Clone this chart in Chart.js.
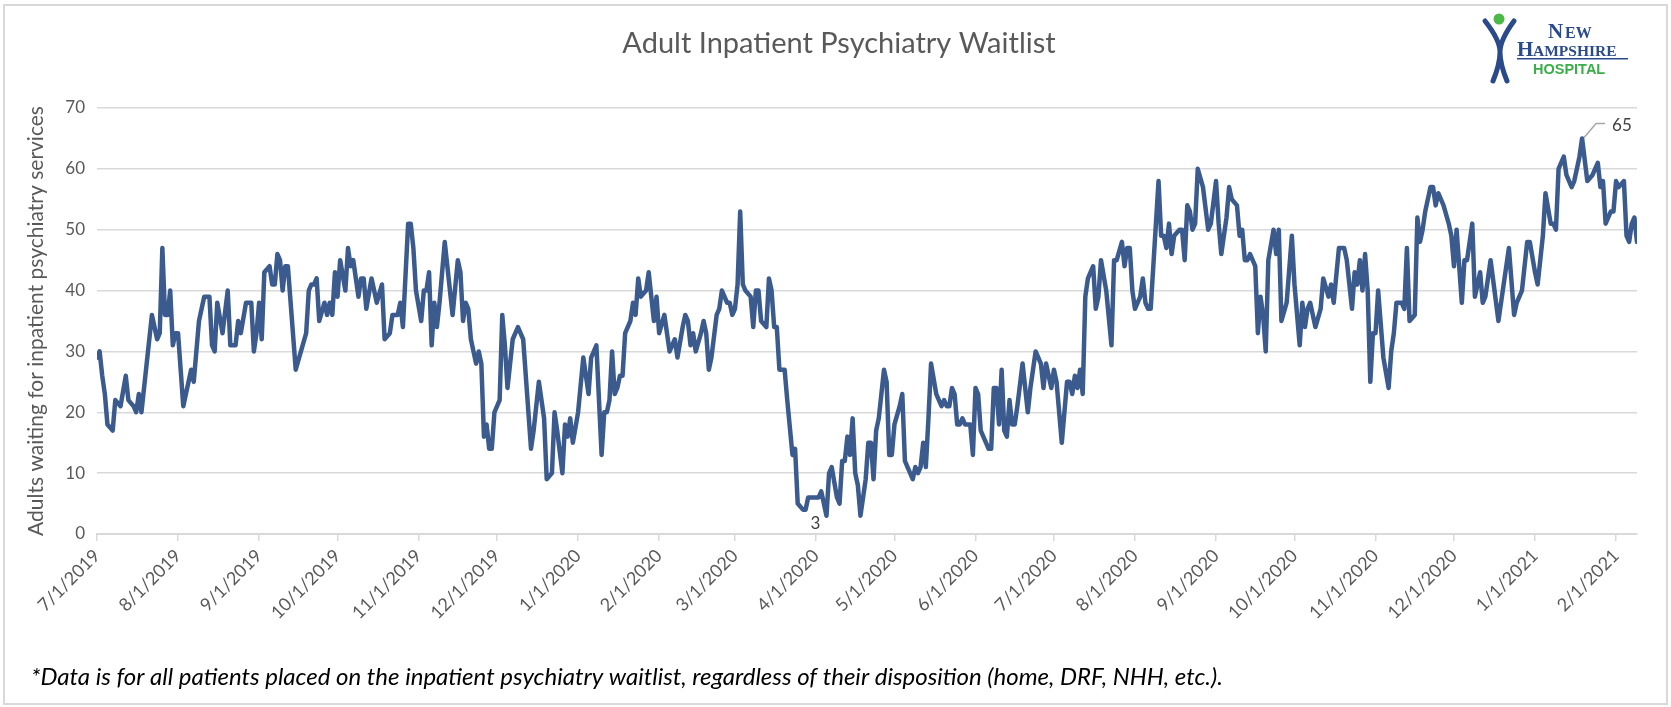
<!DOCTYPE html>
<html>
<head>
<meta charset="utf-8">
<title>Adult Inpatient Psychiatry Waitlist</title>
<script src="https://cdn.jsdelivr.net/npm/chart.js@4.4.1/dist/chart.umd.min.js"></script>
<style>
  html, body { margin: 0; padding: 0; background: #fff; }
  canvas { display: block; }
</style>
</head>
<body>
<canvas id="waitChart" width="1671" height="707"></canvas>
<script>
// days since 7/1/2019 and the waitlist count on that day
const dayIndex = [
  0, 1, 2, 3, 4, 6, 7, 9, 11, 12, 14, 15, 16, 17, 21, 23, 24, 25, 26, 27,
  28, 29, 30, 31, 33, 36, 37, 39, 41, 43, 44, 45, 46, 48, 50, 51, 53, 54, 55, 57,
  59, 60, 61, 62, 63, 64, 66, 67, 68, 69, 70, 71, 72, 73, 76, 80, 81, 82, 83, 84,
  85, 87, 88, 89, 90, 91, 92, 93, 95, 96, 97, 98, 100, 101, 102, 103, 105, 106, 107, 109,
  110, 112, 113, 115, 116, 117, 119, 120, 121, 122, 124, 125, 126, 127, 128, 129, 130, 131, 133, 134,
  136, 138, 139, 140, 141, 142, 143, 145, 146, 147, 148, 149, 150, 151, 152, 154, 155, 156, 157, 159,
  161, 163, 166, 167, 169, 171, 172, 174, 175, 176, 178, 179, 180, 181, 182, 184, 186, 188, 189, 191,
  193, 194, 195, 196, 197, 198, 199, 200, 201, 202, 204, 205, 206, 207, 208, 210, 211, 213, 214, 215,
  217, 219, 221, 222, 224, 225, 226, 227, 228, 229, 231, 232, 233, 234, 235, 237, 238, 239, 241, 242,
  243, 244, 245, 246, 247, 248, 250, 251, 252, 253, 254, 256, 257, 258, 259, 260, 261, 263, 264, 266,
  267, 268, 270, 271, 272, 276, 277, 279, 280, 281, 283, 284, 285, 286, 287, 288, 289, 290, 291, 292,
  294, 295, 296, 297, 298, 299, 301, 302, 303, 304, 305, 307, 308, 309, 310, 312, 313, 314, 315, 316,
  317, 318, 319, 321, 323, 324, 325, 326, 327, 328, 329, 330, 331, 332, 334, 335, 336, 337, 338, 340,
  341, 342, 343, 344, 345, 346, 347, 348, 349, 350, 351, 352, 354, 356, 357, 358, 359, 361, 362, 363,
  365, 366, 367, 368, 369, 371, 372, 373, 374, 375, 376, 377, 378, 379, 381, 382, 383, 384, 386, 388,
  389, 390, 392, 393, 394, 395, 396, 397, 399, 400, 401, 402, 403, 406, 407, 408, 409, 410, 411, 412,
  414, 415, 416, 417, 418, 419, 420, 421, 423, 425, 426, 428, 429, 430, 432, 433, 434, 436, 437, 438,
  439, 440, 441, 442, 443, 444, 445, 446, 447, 448, 450, 451, 452, 453, 455, 457, 458, 460, 461, 462,
  463, 464, 466, 468, 469, 471, 472, 473, 475, 477, 478, 480, 481, 482, 483, 484, 485, 486, 487, 488,
  489, 490, 492, 494, 495, 496, 497, 499, 500, 501, 502, 504, 505, 506, 507, 508, 510, 511, 512, 513,
  515, 517, 518, 519, 520, 522, 523, 524, 526, 527, 529, 530, 531, 533, 536, 540, 542, 543, 545, 547,
  548, 550, 551, 553, 554, 556, 557, 558, 559, 561, 562, 564, 565, 567, 568, 570, 572, 574, 575, 576,
  577, 579, 580, 581, 582, 584, 585, 586, 587, 588, 589
];
const waitlist = [
  29, 30, 26, 23, 18, 17, 22, 21, 26, 22, 21, 20, 23, 20, 36, 32, 33, 47, 36, 36,
  40, 31, 33, 33, 21, 27, 25, 35, 39, 39, 31, 30, 38, 33, 40, 31, 31, 35, 33, 38,
  38, 30, 33, 38, 32, 43, 44, 41, 41, 46, 45, 40, 44, 44, 27, 33, 40, 41, 41, 42,
  35, 38, 36, 38, 36, 43, 39, 45, 40, 47, 44, 45, 39, 42, 42, 37, 42, 40, 38, 41,
  32, 33, 36, 36, 38, 34, 51, 51, 47, 40, 35, 40, 40, 43, 31, 38, 34, 38, 48, 44,
  36, 45, 43, 35, 38, 37, 32, 28, 30, 28, 16, 18, 14, 14, 20, 22, 36, 31, 24, 32,
  34, 32, 14, 17, 25, 19, 9, 10, 20, 17, 10, 18, 16, 19, 15, 20, 29, 23, 29, 31,
  13, 20, 20, 22, 30, 23, 24, 26, 26, 33, 35, 38, 36, 42, 39, 40, 43, 35, 39, 33,
  36, 30, 32, 29, 34, 36, 35, 31, 33, 30, 33, 35, 33, 27, 29, 36, 37, 40, 38, 38,
  36, 37, 41, 53, 41, 40, 39, 34, 40, 40, 35, 34, 42, 40, 34, 34, 27, 27, 22, 13,
  14, 5, 4, 4, 6, 6, 7, 3, 10, 11, 6, 5, 12, 12, 16, 13, 19, 10, 8, 3,
  9, 15, 15, 9, 17, 19, 27, 25, 13, 13, 18, 21, 23, 12, 11, 9, 11, 10, 11, 15,
  11, 19, 28, 23, 21, 22, 21, 21, 24, 23, 18, 18, 19, 18, 18, 13, 24, 23, 17, 15,
  14, 14, 24, 24, 18, 27, 17, 16, 22, 18, 18, 21, 28, 20, 24, 27, 30, 28, 24, 28,
  24, 27, 25, 20, 15, 25, 25, 23, 26, 24, 27, 23, 39, 42, 44, 37, 39, 45, 40, 31,
  45, 45, 48, 44, 47, 47, 40, 37, 39, 42, 38, 37, 37, 58, 49, 49, 47, 51, 46, 49,
  50, 50, 45, 54, 53, 50, 51, 60, 57, 50, 51, 58, 51, 46, 52, 57, 55, 54, 49, 50,
  45, 45, 46, 45, 44, 33, 39, 36, 30, 45, 50, 46, 50, 35, 38, 49, 41, 31, 38, 34,
  37, 38, 34, 37, 42, 39, 41, 38, 47, 47, 45, 37, 43, 41, 45, 40, 46, 40, 25, 33,
  33, 40, 29, 24, 30, 33, 38, 38, 37, 47, 35, 36, 52, 48, 50, 53, 57, 57, 54, 56,
  54, 51, 49, 44, 50, 38, 45, 45, 51, 39, 43, 38, 39, 45, 35, 47, 36, 38, 40, 48,
  48, 43, 41, 49, 56, 51, 51, 50, 60, 62, 59, 57, 58, 62, 65, 58, 59, 61, 57, 58,
  51, 53, 53, 58, 57, 58, 49, 48, 51, 52, 48
];
// first of each month, as days since 7/1/2019
const monthTicks = [0, 31, 62, 92, 123, 153, 184, 215, 244, 275, 305, 336, 366, 397, 428, 458, 489, 519, 550, 581];
const tickLabels = [
  "7/1/2019", "8/1/2019", "9/1/2019", "10/1/2019", "11/1/2019", "12/1/2019",
  "1/1/2020", "2/1/2020", "3/1/2020", "4/1/2020", "5/1/2020", "6/1/2020",
  "7/1/2020", "8/1/2020", "9/1/2020", "10/1/2020", "11/1/2020", "12/1/2020",
  "1/1/2021", "2/1/2021"
];
const yTicks = [0, 10, 20, 30, 40, 50, 60, 70];

const FONT = "Lato, 'Open Sans', sans-serif";
const GREY = "#595959";

const extras = {
  id: "extras",
  afterDraw(chart) {
    const ctx = chart.ctx;
    const xs = chart.scales.x, ys = chart.scales.y;
    ctx.save();

    // outer border
    ctx.strokeStyle = "#d9d9d9";
    ctx.lineWidth = 2;
    ctx.strokeRect(4, 5, 1663, 699);

    // title
    ctx.fillStyle = GREY;
    ctx.font = "29px " + FONT;
    ctx.textAlign = "center";
    ctx.textBaseline = "middle";
    ctx.fillText("Adult Inpatient Psychiatry Waitlist", 839, 44);

    // min / max labels
    let lo = 0, hi = 0;
    waitlist.forEach((v, i) => {
      if (v < waitlist[lo]) lo = i;
      if (v > waitlist[hi]) hi = i;
    });
    ctx.fillStyle = "#404040";
    ctx.font = "17px " + FONT;
    const lx = xs.getPixelForValue(dayIndex[lo]);
    const ly = ys.getPixelForValue(waitlist[lo]);
    ctx.fillText(String(waitlist[lo]), lx - 11, ly + 8);

    const hx = xs.getPixelForValue(dayIndex[hi]);
    const hy = ys.getPixelForValue(waitlist[hi]);
    ctx.strokeStyle = "#a6a6a6";
    ctx.lineWidth = 1.5;
    ctx.beginPath();
    ctx.moveTo(hx + 2, hy - 1);
    ctx.lineTo(hx + 14, hy - 15);
    ctx.lineTo(hx + 23, hy - 15);
    ctx.stroke();
    ctx.textAlign = "left";
    ctx.fillText(String(waitlist[hi]), hx + 30, hy - 13);

    // footnote
    ctx.fillStyle = "#000";
    ctx.font = "italic 24px " + FONT;
    ctx.fillText("*Data is for all patients placed on the inpatient psychiatry waitlist, regardless of their disposition (home, DRF, NHH, etc.).", 31, 677);

    // hospital logo
    ctx.strokeStyle = "#2b4a8c";
    ctx.lineWidth = 5;
    ctx.lineCap = "round";
    ctx.beginPath();
    ctx.moveTo(1485, 21);
    ctx.quadraticCurveTo(1500, 40, 1500, 52);
    ctx.quadraticCurveTo(1500, 64, 1493, 81);
    ctx.moveTo(1514, 21);
    ctx.quadraticCurveTo(1500, 40, 1500, 52);
    ctx.quadraticCurveTo(1500, 64, 1507, 81);
    ctx.stroke();
    ctx.fillStyle = "#4cb848";
    ctx.beginPath();
    ctx.arc(1499, 19, 5.5, 0, Math.PI * 2);
    ctx.fill();

    ctx.fillStyle = "#2b4a8c";
    ctx.textBaseline = "alphabetic";
    ctx.font = "bold 21px 'Liberation Serif', serif";
    ctx.fillText("N", 1548, 38);
    ctx.font = "bold 16px 'Liberation Serif', serif";
    ctx.fillText("EW", 1565, 38);
    ctx.font = "bold 21px 'Liberation Serif', serif";
    ctx.fillText("H", 1517, 56);
    ctx.font = "bold 15.5px 'Liberation Serif', serif";
    ctx.fillText("AMPSHIRE", 1533, 56);
    ctx.fillRect(1517, 58, 111, 1.5);
    ctx.fillStyle = "#3aae49";
    ctx.font = "bold 14.5px 'Liberation Sans', sans-serif";
    ctx.fillText("HOSPITAL", 1533, 74);
    ctx.restore();
  }
};

new Chart(document.getElementById("waitChart"), {
  type: "line",
  data: {
    datasets: [{
      label: "Adult inpatient psychiatry waitlist",
      data: dayIndex.map((d, i) => ({ x: d, y: waitlist[i] })),
      borderColor: "#3b5b8f",
      borderWidth: 4.5,
      borderJoinStyle: "round",
      borderCapStyle: "round",
      pointRadius: 0,
      tension: 0,
      fill: false
    }]
  },
  options: {
    responsive: false,
    animation: false,
    devicePixelRatio: 1,
    layout: { padding: { top: 108, right: 34, bottom: 0, left: 0 } },
    plugins: {
      legend: { display: false },
      tooltip: { enabled: false },
      title: { display: false }
    },
    scales: {
      x: {
        type: "linear",
        min: 0,
        max: 589,
        afterBuildTicks: scale => {
          scale.ticks = monthTicks.map(v => ({ value: v }));
        },
        afterFit: scale => { scale.height = 173; },
        ticks: {
          autoSkip: false,
          minRotation: 45,
          maxRotation: 45,
          padding: 4,
          color: GREY,
          font: { family: FONT, size: 18 },
          callback: value => tickLabels[monthTicks.indexOf(value)]
        },
        grid: {
          drawOnChartArea: false,
          drawTicks: true,
          tickLength: 7,
          color: "#d9d9d9",
          lineWidth: 1.5
        },
        border: { display: true, color: "#d9d9d9", width: 2 }
      },
      y: {
        min: 0,
        max: 70,
        afterBuildTicks: scale => {
          scale.ticks = yTicks.map(v => ({ value: v }));
        },
        afterFit: scale => { scale.width = 97; },
        ticks: {
          padding: 12,
          color: GREY,
          font: { family: FONT, size: 17 }
        },
        grid: { drawTicks: false, color: "#d9d9d9", lineWidth: 1.5 },
        border: { display: false },
        title: {
          display: true,
          text: "Adults waiting for inpatient psychiatry services",
          color: GREY,
          font: { family: FONT, size: 21 },
          padding: { top: 24, bottom: 0 }
        }
      }
    }
  },
  plugins: [extras]
});
</script>
</body>
</html>
